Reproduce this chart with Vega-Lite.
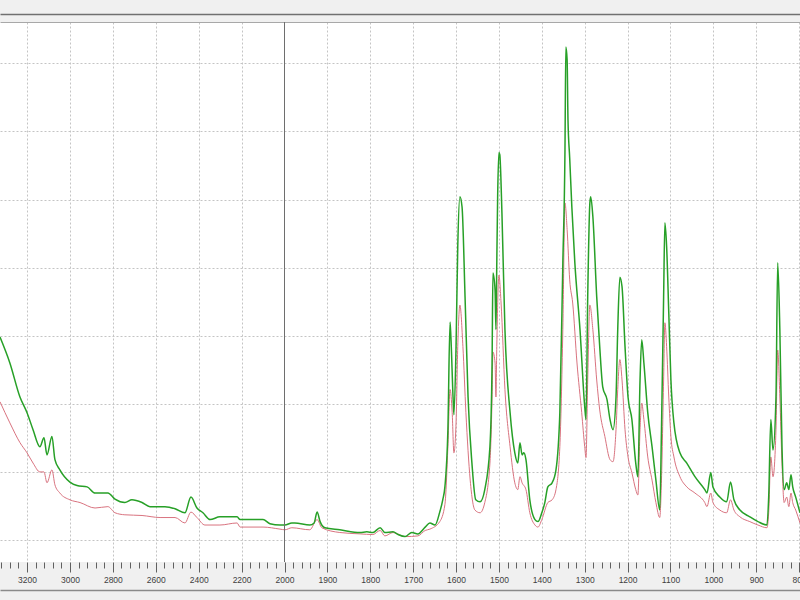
{
  "$schema": "https://vega.github.io/schema/vega-lite/v6.json",
  "width": 800,
  "height": 540,
  "autosize": {"type": "none"},
  "padding": {"left": 0, "top": 22, "right": 0, "bottom": 38},
  "background": "#f0f0f0",
  "config": {"view": {"fill": "white", "stroke": null}},
  "datasets": {
    "green": [
      {"w":3326,"a":0.298},{"w":3280,"a":0.260},{"w":3233,"a":0.210},{"w":3200,"a":0.187},{"w":3172,"a":0.162},{"w":3140,"a":0.137},{"w":3121,"a":0.150},{"w":3107,"a":0.125},{"w":3084,"a":0.152},{"w":3070,"a":0.118},{"w":3047,"a":0.103},{"w":3000,"a":0.085},{"w":2967,"a":0.080},{"w":2920,"a":0.078},{"w":2883,"a":0.069},{"w":2823,"a":0.069},{"w":2790,"a":0.060},{"w":2744,"a":0.055},{"w":2711,"a":0.059},{"w":2664,"a":0.055},{"w":2627,"a":0.049},{"w":2557,"a":0.049},{"w":2510,"a":0.046},{"w":2464,"a":0.040},{"w":2436,"a":0.063},{"w":2408,"a":0.047},{"w":2380,"a":0.040},{"w":2347,"a":0.030},{"w":2301,"a":0.034},{"w":2221,"a":0.034},{"w":2207,"a":0.030},{"w":2100,"a":0.030},{"w":2068,"a":0.024},{"w":2021,"a":0.022},{"w":1999,"a":0.022},{"w":1983,"a":0.025},{"w":1976,"a":0.025},{"w":1941,"a":0.022},{"w":1931,"a":0.025},{"w":1924,"a":0.041},{"w":1917,"a":0.027},{"w":1906,"a":0.018},{"w":1871,"a":0.015},{"w":1824,"a":0.011},{"w":1808,"a":0.012},{"w":1794,"a":0.011},{"w":1777,"a":0.018},{"w":1766,"a":0.011},{"w":1747,"a":0.012},{"w":1735,"a":0.008},{"w":1719,"a":0.005},{"w":1703,"a":0.011},{"w":1689,"a":0.009},{"w":1672,"a":0.019},{"w":1661,"a":0.025},{"w":1649,"a":0.022},{"w":1638,"a":0.041},{"w":1631,"a":0.059},{"w":1626,"a":0.078},{"w":1619,"a":0.162},{"w":1614,"a":0.320},{"w":1612,"a":0.298},{"w":1607,"a":0.210},{"w":1605,"a":0.184},{"w":1600,"a":0.284},{"w":1596,"a":0.431},{"w":1591,"a":0.504},{"w":1586,"a":0.489},{"w":1579,"a":0.357},{"w":1572,"a":0.210},{"w":1563,"a":0.113},{"w":1554,"a":0.059},{"w":1544,"a":0.056},{"w":1533,"a":0.074},{"w":1521,"a":0.137},{"w":1516,"a":0.260},{"w":1514,"a":0.392},{"w":1509,"a":0.367},{"w":1507,"a":0.309},{"w":1505,"a":0.407},{"w":1503,"a":0.504},{"w":1500,"a":0.569},{"w":1498,"a":0.566},{"w":1493,"a":0.480},{"w":1486,"a":0.309},{"w":1474,"a":0.187},{"w":1463,"a":0.128},{"w":1456,"a":0.113},{"w":1451,"a":0.143},{"w":1446,"a":0.125},{"w":1442,"a":0.128},{"w":1437,"a":0.118},{"w":1428,"a":0.059},{"w":1416,"a":0.030},{"w":1409,"a":0.027},{"w":1400,"a":0.040},{"w":1393,"a":0.055},{"w":1386,"a":0.078},{"w":1376,"a":0.084},{"w":1367,"a":0.103},{"w":1358,"a":0.187},{"w":1351,"a":0.407},{"w":1346,"a":0.573},{"w":1344,"a":0.724},{"w":1341,"a":0.705},{"w":1339,"a":0.617},{"w":1335,"a":0.561},{"w":1330,"a":0.489},{"w":1323,"a":0.407},{"w":1311,"a":0.309},{"w":1300,"a":0.196},{"w":1297,"a":0.177},{"w":1293,"a":0.357},{"w":1288,"a":0.495},{"w":1286,"a":0.504},{"w":1281,"a":0.475},{"w":1272,"a":0.357},{"w":1265,"a":0.284},{"w":1258,"a":0.225},{"w":1248,"a":0.206},{"w":1241,"a":0.177},{"w":1234,"a":0.162},{"w":1227,"a":0.210},{"w":1223,"a":0.309},{"w":1218,"a":0.386},{"w":1213,"a":0.372},{"w":1206,"a":0.284},{"w":1199,"a":0.210},{"w":1190,"a":0.177},{"w":1181,"a":0.113},{"w":1176,"a":0.093},{"w":1171,"a":0.235},{"w":1167,"a":0.294},{"w":1162,"a":0.260},{"w":1153,"a":0.187},{"w":1143,"a":0.137},{"w":1134,"a":0.088},{"w":1125,"a":0.044},{"w":1121,"a":0.162},{"w":1116,"a":0.357},{"w":1113,"a":0.466},{"w":1109,"a":0.431},{"w":1104,"a":0.334},{"w":1099,"a":0.235},{"w":1092,"a":0.172},{"w":1078,"a":0.128},{"w":1062,"a":0.113},{"w":1043,"a":0.093},{"w":1020,"a":0.074},{"w":1015,"a":0.069},{"w":1006,"a":0.099},{"w":1001,"a":0.078},{"w":985,"a":0.063},{"w":969,"a":0.056},{"w":960,"a":0.085},{"w":952,"a":0.059},{"w":938,"a":0.044},{"w":915,"a":0.034},{"w":896,"a":0.027},{"w":875,"a":0.022},{"w":871,"a":0.063},{"w":866,"a":0.177},{"w":861,"a":0.132},{"w":854,"a":0.210},{"w":850,"a":0.407},{"w":845,"a":0.309},{"w":840,"a":0.137},{"w":835,"a":0.074},{"w":829,"a":0.084},{"w":824,"a":0.074},{"w":819,"a":0.096},{"w":815,"a":0.078},{"w":808,"a":0.063},{"w":798,"a":0.040}
    ],
    "red": [
      {"w":3326,"a":0.203},{"w":3280,"a":0.172},{"w":3233,"a":0.143},{"w":3200,"a":0.128},{"w":3172,"a":0.113},{"w":3140,"a":0.100},{"w":3121,"a":0.100},{"w":3107,"a":0.084},{"w":3084,"a":0.103},{"w":3070,"a":0.081},{"w":3047,"a":0.069},{"w":3000,"a":0.059},{"w":2953,"a":0.055},{"w":2883,"a":0.047},{"w":2823,"a":0.049},{"w":2790,"a":0.040},{"w":2744,"a":0.037},{"w":2664,"a":0.036},{"w":2580,"a":0.033},{"w":2510,"a":0.033},{"w":2464,"a":0.025},{"w":2436,"a":0.041},{"w":2408,"a":0.033},{"w":2371,"a":0.022},{"w":2301,"a":0.022},{"w":2221,"a":0.025},{"w":2207,"a":0.019},{"w":2100,"a":0.019},{"w":2021,"a":0.016},{"w":1999,"a":0.015},{"w":1983,"a":0.018},{"w":1941,"a":0.015},{"w":1924,"a":0.030},{"w":1913,"a":0.018},{"w":1871,"a":0.011},{"w":1824,"a":0.009},{"w":1794,"a":0.008},{"w":1777,"a":0.014},{"w":1766,"a":0.006},{"w":1747,"a":0.011},{"w":1719,"a":0.005},{"w":1689,"a":0.006},{"w":1672,"a":0.014},{"w":1661,"a":0.016},{"w":1638,"a":0.027},{"w":1626,"a":0.052},{"w":1619,"a":0.137},{"w":1614,"a":0.221},{"w":1609,"a":0.187},{"w":1605,"a":0.128},{"w":1600,"a":0.172},{"w":1596,"a":0.284},{"w":1591,"a":0.345},{"w":1584,"a":0.284},{"w":1577,"a":0.187},{"w":1567,"a":0.088},{"w":1556,"a":0.044},{"w":1544,"a":0.040},{"w":1533,"a":0.055},{"w":1521,"a":0.113},{"w":1516,"a":0.210},{"w":1514,"a":0.276},{"w":1509,"a":0.260},{"w":1507,"a":0.210},{"w":1505,"a":0.284},{"w":1500,"a":0.389},{"w":1495,"a":0.348},{"w":1486,"a":0.221},{"w":1474,"a":0.137},{"w":1463,"a":0.084},{"w":1456,"a":0.074},{"w":1451,"a":0.093},{"w":1446,"a":0.084},{"w":1437,"a":0.074},{"w":1428,"a":0.040},{"w":1416,"a":0.022},{"w":1409,"a":0.019},{"w":1400,"a":0.030},{"w":1386,"a":0.055},{"w":1376,"a":0.059},{"w":1367,"a":0.074},{"w":1358,"a":0.137},{"w":1351,"a":0.309},{"w":1346,"a":0.495},{"w":1341,"a":0.456},{"w":1335,"a":0.382},{"w":1328,"a":0.348},{"w":1318,"a":0.260},{"w":1307,"a":0.187},{"w":1300,"a":0.137},{"w":1297,"a":0.121},{"w":1293,"a":0.235},{"w":1288,"a":0.345},{"w":1281,"a":0.309},{"w":1272,"a":0.235},{"w":1265,"a":0.191},{"w":1253,"a":0.152},{"w":1241,"a":0.118},{"w":1234,"a":0.115},{"w":1227,"a":0.162},{"w":1223,"a":0.221},{"w":1218,"a":0.265},{"w":1213,"a":0.235},{"w":1206,"a":0.162},{"w":1199,"a":0.122},{"w":1190,"a":0.099},{"w":1181,"a":0.074},{"w":1176,"a":0.066},{"w":1171,"a":0.162},{"w":1167,"a":0.201},{"w":1162,"a":0.177},{"w":1153,"a":0.122},{"w":1143,"a":0.088},{"w":1134,"a":0.055},{"w":1125,"a":0.033},{"w":1121,"a":0.088},{"w":1116,"a":0.235},{"w":1113,"a":0.319},{"w":1109,"a":0.284},{"w":1104,"a":0.210},{"w":1099,"a":0.152},{"w":1092,"a":0.122},{"w":1078,"a":0.093},{"w":1062,"a":0.078},{"w":1043,"a":0.069},{"w":1020,"a":0.055},{"w":1015,"a":0.049},{"w":1006,"a":0.069},{"w":1001,"a":0.055},{"w":985,"a":0.044},{"w":969,"a":0.040},{"w":960,"a":0.059},{"w":952,"a":0.044},{"w":938,"a":0.034},{"w":915,"a":0.027},{"w":896,"a":0.022},{"w":875,"a":0.018},{"w":871,"a":0.040},{"w":866,"a":0.122},{"w":861,"a":0.093},{"w":854,"a":0.162},{"w":850,"a":0.279},{"w":845,"a":0.210},{"w":840,"a":0.113},{"w":835,"a":0.055},{"w":829,"a":0.063},{"w":824,"a":0.049},{"w":819,"a":0.069},{"w":815,"a":0.055},{"w":808,"a":0.044},{"w":798,"a":0.025}
    ],
    "sep": [{"w": 2000}]
  },
  "resolve": {"axis": {"x": "independent"}},
  "layer": [
    {
      "data": {"name": "red"},
      "mark": {"type": "line", "color": "#d9737f", "strokeWidth": 1, "interpolate": "monotone"},
      "encoding": {
        "x": {"field": "w", "type": "quantitative",
          "scale": {"domain": [3326, 2000, 798], "range": [0, 284.5, 800], "nice": false, "zero": false},
          "axis": {"orient": "top", "offset": 0, "labels": false, "ticks": false, "grid": false, "title": null, "domain": true, "domainColor": "#a8a8a8", "domainWidth": 1}},
        "y": {"field": "a", "type": "quantitative",
          "scale": {"domain": [-0.0323, 0.7607], "nice": false, "zero": false},
          "axis": {"orient": "left", "values": [0, 0.1, 0.2, 0.3, 0.4, 0.5, 0.6, 0.7], "labels": false, "ticks": false, "domain": false, "grid": true, "gridDash": [2, 2], "gridColor": "#c4c4c4", "title": null}}
      }
    },
    {
      "data": {"name": "green"},
      "mark": {"type": "line", "color": "#27a027", "strokeWidth": 1.5, "interpolate": "monotone"},
      "encoding": {
        "x": {"field": "w", "type": "quantitative",
          "axis": {"orient": "bottom", "title": null, "domain": false,
            "values": [3320,3280,3240,3200,3160,3120,3080,3040,3000,2960,2920,2880,2840,2800,2760,2720,2680,2640,2600,2560,2520,2480,2440,2400,2360,2320,2280,2240,2200,2160,2120,2080,2040,2000,1980,1960,1940,1920,1900,1880,1860,1840,1820,1800,1780,1760,1740,1720,1700,1680,1660,1640,1620,1600,1580,1560,1540,1520,1500,1480,1460,1440,1420,1400,1380,1360,1340,1320,1300,1280,1260,1240,1220,1200,1180,1160,1140,1120,1100,1080,1060,1040,1020,1000,980,960,940,920,900,880,860,840,820,800],
            "labelExpr": "(datum.value > 2000 ? datum.value % 200 == 0 : datum.value % 100 == 0) ? format(datum.value, 'd') : ''",
            "labelOverlap": false, "labelBound": false, "labelFlush": false,
            "labelFont": "Liberation Sans", "labelFontSize": 8.5, "labelColor": "#404040", "labelPadding": 3,
            "tickColor": "#606060", "tickWidth": 1,
            "tickSize": {"condition": {"test": "(datum.value > 2000 ? datum.value % 200 == 0 : datum.value % 100 == 0)", "value": 10}, "value": 6},
            "grid": true, "gridDash": [2, 2], "gridColor": "#c4c4c4",
            "gridOpacity": {"condition": {"test": "(datum.value > 2000 ? datum.value % 200 == 0 : datum.value % 100 == 0) && datum.value != 2000", "value": 1}, "value": 0}}},
        "y": {"field": "a", "type": "quantitative",
          "axis": {"orient": "left", "values": [0, 0.1, 0.2, 0.3, 0.4, 0.5, 0.6, 0.7], "labels": false, "ticks": false, "domain": false, "grid": true, "gridDash": [2, 2], "gridColor": "#c4c4c4", "title": null}}
      }
    },
    {
      "data": {"name": "sep"},
      "mark": {"type": "rule", "color": "#6e6e6e", "strokeWidth": 1},
      "encoding": {
        "x": {"field": "w", "type": "quantitative",
          "axis": {"orient": "top", "offset": 8, "labels": false, "ticks": false, "grid": false, "title": null, "domain": true, "domainColor": "#707070", "domainWidth": 1.5}}
      }
    },
    {
      "data": {"name": "sep"},
      "mark": {"type": "rule", "color": "#6e6e6e", "strokeWidth": 1},
      "encoding": {
        "x": {"field": "w", "type": "quantitative",
          "axis": {"orient": "bottom", "offset": 28, "labels": false, "ticks": false, "grid": false, "title": null, "domain": true, "domainColor": "#8a8a8a", "domainWidth": 1.5}}
      }
    }
  ]
}
